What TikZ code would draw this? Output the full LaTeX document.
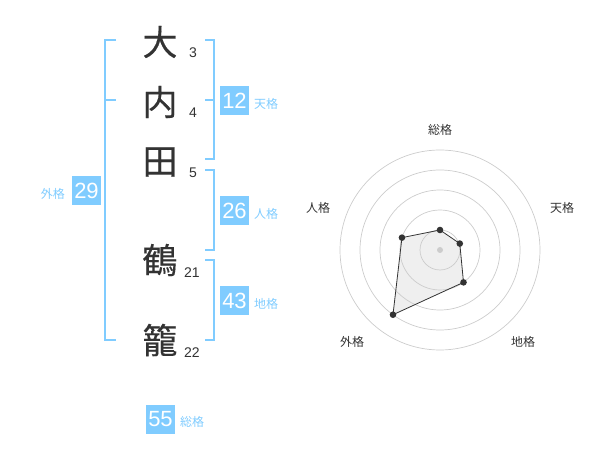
\documentclass[tikz,border=0pt]{standalone}
\usepackage{fontspec}
\setmainfont{Liberation Sans}
\newfontfamily\jpfont{Noto Sans CJK JP}
\newfontfamily\kanjifont[FakeBold=0.3]{Noto Sans CJK JP}
\usepackage{tikz}
\definecolor{kakublue}{HTML}{80CCFF}
\definecolor{inkgray}{HTML}{333333}
\definecolor{ringgray}{HTML}{CCCCCC}
\definecolor{areagray}{HTML}{EFEFEF}

\begin{document}
\begin{tikzpicture}[x=1pt,y=-1pt,
  kanji/.style={text=inkgray,font=\kanjifont\fontsize{35}{35}\selectfont,inner sep=0pt},
  strokes/.style={text=inkgray,font=\fontsize{14}{14}\selectfont,inner sep=0pt},
  kakubox/.style={fill=kakublue,text=white,font=\fontsize{22}{22}\selectfont,minimum size=29pt,inner sep=0pt},
  kakuname/.style={text=kakublue,font=\jpfont\fontsize{12}{12}\selectfont,inner sep=0pt},
  bracket/.style={draw=kakublue,line width=2pt},
  axisname/.style={text=inkgray,font=\jpfont\fontsize{12}{12}\selectfont,inner sep=0pt},
  ring/.style={draw=ringgray,line width=0.7pt},
  dot/.style={circle,fill=inkgray,inner sep=0pt,minimum size=6.6pt}]
\useasboundingbox (0,0) rectangle (600,470);
\draw (160,42) node (k1) [kanji] {大};
\draw (160,102) node (k2) [kanji] {内};
\draw (160,162) node (k3) [kanji] {田};
\draw (160,260) node (k4) [kanji] {鶴};
\draw (160,340) node (k5) [kanji] {籠};
\draw (k1) ++(33,11) node (n1) [strokes] {3};
\draw (k2) ++(33,11) node (n2) [strokes] {4};
\draw (k3) ++(33,11) node (n3) [strokes] {5};
\draw (k4) ++(32,13) node (n4) [strokes] {21};
\draw (k5) ++(32,13) node (n5) [strokes] {22};
\draw[bracket] (205,40) -- (214,40) -- (214,159) -- (205,159);
\draw[bracket] (205,100) -- (214,100);
\draw[bracket] (205,170) -- (214,170) -- (214,250) -- (205,250);
\draw[bracket] (205,260) -- (214,260) -- (214,340) -- (205,340);
\draw[bracket] (116,40) -- (105,40) -- (105,340) -- (116,340);
\draw[bracket] (105,100) -- (116,100);
\draw (234.5,100.5) node (ten) [kakubox] {12};
\draw (ten.east) ++(17,3) node (tenname) [kakuname] {天格};
\draw (234.5,211) node (jin) [kakubox] {26};
\draw (jin.east) ++(17,3) node (jinname) [kakuname] {人格};
\draw (234.5,300.5) node (chi) [kakubox] {43};
\draw (chi.east) ++(17,3) node (chiname) [kakuname] {地格};
\draw (86.5,190.5) node (gai) [kakubox] {29};
\draw (gai.west) ++(-19,3) node (gainame) [kakuname] {外格};
\draw (160.5,419) node (sou) [kakubox] {55};
\draw (sou.east) ++(17,3) node (souname) [kakuname] {総格};
\begin{scope}[shift={(440,250)},y=1pt]
\coordinate (p1) at (90:20);
\coordinate (p2) at (18:20.8);
\coordinate (p3) at (-54:40);
\coordinate (p4) at (-126:80);
\coordinate (p5) at (162:40);
\fill[areagray] (p1) -- (p2) -- (p3) -- (p4) -- (p5) -- cycle;
\draw[ring] (0,0) circle [radius=20];
\draw[ring] (0,0) circle [radius=40];
\draw[ring] (0,0) circle [radius=60];
\draw[ring] (0,0) circle [radius=80];
\draw[ring] (0,0) circle [radius=100];
\fill[ringgray] (0,0) circle [radius=3];
\draw[draw=inkgray,line width=0.8pt] (p1) -- (p2) -- (p3) -- (p4) -- (p5) -- cycle;
\draw (p1) node (d1) [dot] {};
\draw (p2) node (d2) [dot] {};
\draw (p3) node (d3) [dot] {};
\draw (p4) node (d4) [dot] {};
\draw (p5) node (d5) [dot] {};
\draw (0,120) node (a1) [axisname] {総格};
\draw (122,42) node (a2) [axisname] {天格};
\draw (83,-92) node (a3) [axisname] {地格};
\draw (-88,-92) node (a4) [axisname] {外格};
\draw (-122,42) node (a5) [axisname] {人格};
\end{scope}
\end{tikzpicture}
\end{document}
